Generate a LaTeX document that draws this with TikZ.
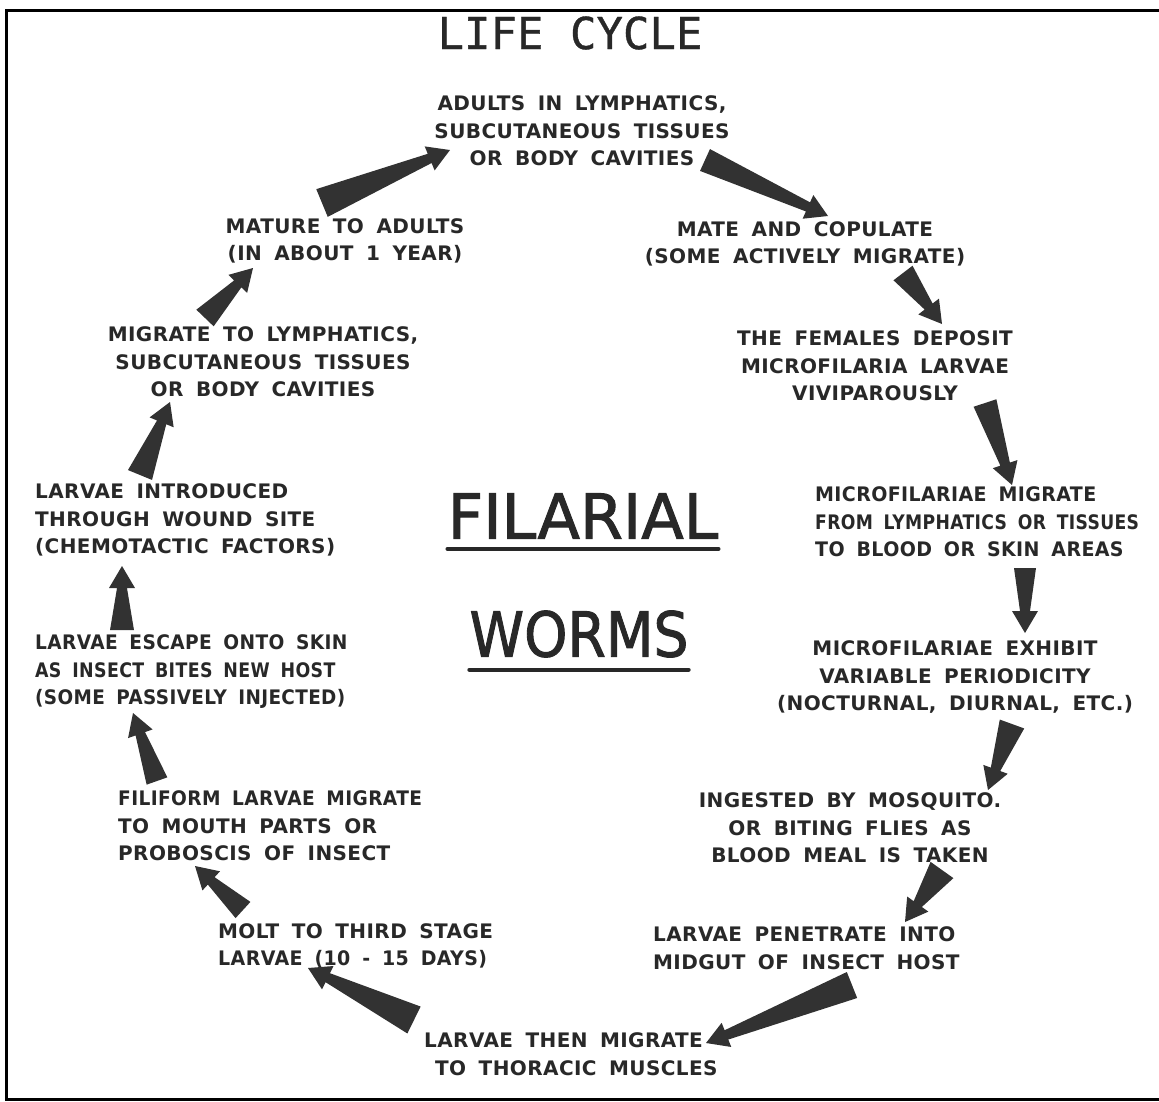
\documentclass[tikz,border=0pt]{standalone}
\usepackage{fontspec}
\usetikzlibrary{calc}
\newfontfamily\handfont{DejaVu Sans}[LetterSpace=2,WordSpace=1.7]
\newfontfamily\typefont{DejaVu Sans Mono}[FakeBold=0.8]
\newfontfamily\headfont{DejaVu Sans}[FakeBold=1.6]
\definecolor{filink}{RGB}{40,40,40}
\definecolor{filarrow}{RGB}{50,50,50}

\tikzset{
  stage/.style={font=\handfont\bfseries\fontsize{20}{27.5}\selectfont, text=filink, inner sep=0pt, align=center},
  stageleft/.style={stage, align=left, anchor=west},
  underbar/.style={line width=4pt, filink, line cap=round},
}

% tapered arrow: [half width of tail]{from}{to}
\newcommand{\taperarrow}[3][12pt]{%
  \coordinate (ta) at (#2);
  \coordinate (tb) at (#3);
  \coordinate (tn) at ($(tb)!22pt!(ta)$);
  \fill[filarrow] ($(ta)!#1!90:(tb)$) -- ($(tn)!5pt!-90:(ta)$) -- ($(tn)!13pt!-90:(ta)$) -- (tb)
    -- ($(tn)!13pt!90:(ta)$) -- ($(tn)!5pt!90:(ta)$) -- ($(ta)!#1!-90:(tb)$) -- cycle;
}
\newcommand{\squeeze}[2]{\scalebox{#1}[1]{#2}}

\begin{document}
\begin{tikzpicture}[x=1pt, y=-1pt]
  \useasboundingbox (0,0) rectangle (1159,1101);
  \draw[line width=3pt] (1159,10) -- (6,10) -- (6,1099) -- (1159,1099);

  % titles
  \node[font=\typefont\fontsize{44}{44}\selectfont, text=filink, inner sep=0pt] (title) at (570,33) {LIFE CYCLE};
  \node[font=\headfont\fontsize{62}{62}\selectfont, text=filink, inner sep=0pt] (filarial) at (583,516) {FILARIAL};
  \node[font=\headfont\fontsize{62}{62}\selectfont, text=filink, inner sep=0pt] (worms) at (579,634) {\squeeze{0.89}{WORMS}};
  \draw[underbar] ([yshift=-10pt]filarial.south west) -- ([yshift=-10pt]filarial.south east);
  \draw[underbar] ([yshift=-12pt]worms.south west) -- ([yshift=-12pt]worms.south east);

  % stages of the cycle
  \node[stage] (adults) at (582,131) {ADULTS IN LYMPHATICS,\\SUBCUTANEOUS TISSUES\\OR BODY CAVITIES};
  \node[stage] (mate) at (805,244) {MATE AND COPULATE\\(SOME ACTIVELY MIGRATE)};
  \node[stage] (deposit) at (875,366) {THE FEMALES DEPOSIT\\MICROFILARIA LARVAE\\VIVIPAROUSLY};
  \node[stageleft] (tissue) at (815,522) {\squeeze{0.95}{MICROFILARIAE MIGRATE}\\\squeeze{0.86}{FROM LYMPHATICS OR TISSUES}\\\squeeze{0.95}{TO BLOOD OR SKIN AREAS}};
  \node[stage] (period) at (955,677) {MICROFILARIAE EXHIBIT\\VARIABLE PERIODICITY\\(NOCTURNAL, DIURNAL, ETC.)};
  \node[stage] (ingest) at (850,828) {INGESTED BY MOSQUITO.\\OR BITING FLIES AS\\BLOOD MEAL IS TAKEN};
  \node[stageleft] (midgut) at (653,948) {LARVAE PENETRATE INTO\\MIDGUT OF INSECT HOST};
  \node[stageleft] (thorax) at (424,1054) {LARVAE THEN MIGRATE\\\hspace{11pt}TO THORACIC MUSCLES};
  \node[stageleft] (molt) at (218,946) {MOLT TO THIRD STAGE\\\squeeze{0.95}{LARVAE (10 - 15 DAYS)}};
  \node[stageleft] (proboscis) at (118,826) {\squeeze{0.93}{FILIFORM LARVAE MIGRATE}\\TO MOUTH PARTS OR\\PROBOSCIS OF INSECT};
  \node[stageleft] (escape) at (35,672) {\squeeze{0.93}{LARVAE ESCAPE ONTO SKIN}\\\squeeze{0.87}{AS INSECT BITES NEW HOST}\\\squeeze{0.92}{(SOME PASSIVELY INJECTED)}};
  \node[stageleft] (wound) at (35,520) {LARVAE INTRODUCED\\THROUGH WOUND SITE\\(CHEMOTACTIC FACTORS)};
  \node[stage] (lymph) at (263,362) {MIGRATE TO LYMPHATICS,\\SUBCUTANEOUS TISSUES\\OR BODY CAVITIES};
  \node[stage] (mature) at (345,241) {MATURE TO ADULTS\\(IN ABOUT 1 YEAR)};

  % arrow ends
  \coordinate (adults-out) at (705,160);     \coordinate (mate-in) at (828,216);
  \coordinate (mate-out) at (903,273);       \coordinate (deposit-in) at (942,324);
  \coordinate (deposit-out) at (985,403);    \coordinate (tissue-in) at (1012,485);
  \coordinate (tissue-out) at (1025,568);    \coordinate (period-in) at (1025,633);
  \coordinate (period-out) at (1012,724);    \coordinate (ingest-in) at (988,790);
  \coordinate (ingest-out) at (942,870);     \coordinate (midgut-in) at (905,922);
  \coordinate (midgut-out) at (852,985);     \coordinate (thorax-in) at (706,1043);
  \coordinate (thorax-out) at (414,1020);    \coordinate (molt-in) at (308,968);
  \coordinate (molt-out) at (243,910);       \coordinate (proboscis-in) at (195,866);
  \coordinate (proboscis-out) at (157,781);  \coordinate (escape-in) at (133,713);
  \coordinate (escape-out) at (122,630);     \coordinate (wound-in) at (122,566);
  \coordinate (wound-out) at (140,475);      \coordinate (lymph-in) at (170,402);
  \coordinate (lymph-out) at (205,318);      \coordinate (mature-in) at (253,268);
  \coordinate (mature-out) at (322,203);     \coordinate (adults-in) at (450,150);

  \taperarrow[12pt]{adults-out}{mate-in}
  \taperarrow[12pt]{mate-out}{deposit-in}
  \taperarrow[12pt]{deposit-out}{tissue-in}
  \taperarrow[11pt]{tissue-out}{period-in}
  \taperarrow[13pt]{period-out}{ingest-in}
  \taperarrow[14pt]{ingest-out}{midgut-in}
  \taperarrow[14pt]{midgut-out}{thorax-in}
  \taperarrow[15pt]{thorax-out}{molt-in}
  \taperarrow[11pt]{molt-out}{proboscis-in}
  \taperarrow[11pt]{proboscis-out}{escape-in}
  \taperarrow[12pt]{escape-out}{wound-in}
  \taperarrow[13pt]{wound-out}{lymph-in}
  \taperarrow[12pt]{lymph-out}{mature-in}
  \taperarrow[15pt]{mature-out}{adults-in}
\end{tikzpicture}
\end{document}
